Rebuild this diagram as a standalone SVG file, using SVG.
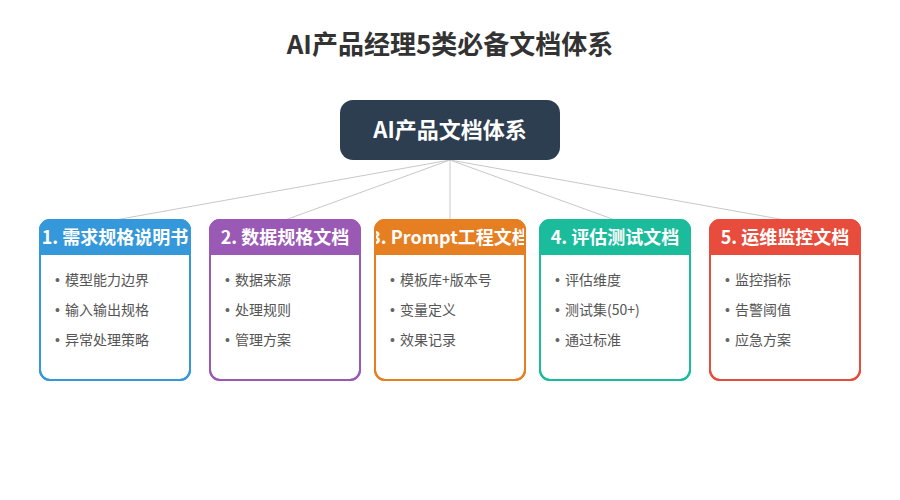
<svg xmlns="http://www.w3.org/2000/svg" width="900" height="500" viewBox="0 0 900 500">
<style>
text{font-family:"Noto Sans CJK SC","Liberation Sans",sans-serif}
.title{font-size:26px;font-weight:bold;fill:#333;text-anchor:middle}
.root{font-size:22px;font-weight:bold;fill:#fff;text-anchor:middle}
.hd{font-size:18px;font-weight:bold;fill:#fff;text-anchor:middle}
.it{font-size:14px;fill:#555}
.it text.b{font-family:"Liberation Sans",sans-serif;fill:#666}
.conn line{stroke:#c8c8c8;stroke-width:1}
.card{fill:#fff;stroke-width:2}
</style>
<defs>
<clipPath id="c1"><rect x="40" y="220" width="150" height="160" rx="10"/></clipPath>
<clipPath id="c2"><rect x="210" y="220" width="150" height="160" rx="10"/></clipPath>
<clipPath id="c3"><rect x="375" y="220" width="150" height="160" rx="10"/></clipPath>
<clipPath id="c4"><rect x="540" y="220" width="150" height="160" rx="10"/></clipPath>
<clipPath id="c5"><rect x="710" y="220" width="150" height="160" rx="10"/></clipPath>
</defs>
<rect width="900" height="500" fill="#fff"/>
<text class="title" x="450" y="54">AI产品经理5类必备文档体系</text>
<g class="conn">
<line x1="450" y1="160" x2="115" y2="220"/>
<line x1="450" y1="160" x2="285" y2="220"/>
<line x1="450" y1="160" x2="450" y2="220"/>
<line x1="450" y1="160" x2="615" y2="220"/>
<line x1="450" y1="160" x2="785" y2="220"/>
</g>
<g id="root">
<rect x="340" y="100" width="220" height="60" rx="13" fill="#2c3e50"/>
<text class="root" x="450" y="138">AI产品文档体系</text>
</g>
<g id="card1">
<rect class="card" x="40" y="220" width="150" height="160" rx="10" stroke="#3498db"/>
<g clip-path="url(#c1)"><rect x="40" y="220" width="150" height="35" fill="#3498db"/>
<text class="hd" x="115" y="244">1. 需求规格说明书</text></g>
<rect x="40" y="220" width="150" height="160" rx="10" fill="none" stroke="#3498db" stroke-width="2"/>
<g class="it"><text class="b" x="55" y="285">•</text><text x="65" y="285">模型能力边界</text>
<text class="b" x="55" y="315">•</text><text x="65" y="315">输入输出规格</text>
<text class="b" x="55" y="345">•</text><text x="65" y="345">异常处理策略</text></g>
</g>
<g id="card2">
<rect class="card" x="210" y="220" width="150" height="160" rx="10" stroke="#9b59b6"/>
<g clip-path="url(#c2)"><rect x="210" y="220" width="150" height="35" fill="#9b59b6"/>
<text class="hd" x="285" y="244">2. 数据规格文档</text></g>
<rect x="210" y="220" width="150" height="160" rx="10" fill="none" stroke="#9b59b6" stroke-width="2"/>
<g class="it"><text class="b" x="225" y="285">•</text><text x="235" y="285">数据来源</text>
<text class="b" x="225" y="315">•</text><text x="235" y="315">处理规则</text>
<text class="b" x="225" y="345">•</text><text x="235" y="345">管理方案</text></g>
</g>
<g id="card3">
<rect class="card" x="375" y="220" width="150" height="160" rx="10" stroke="#e67e22"/>
<g clip-path="url(#c3)"><rect x="375" y="220" width="150" height="35" fill="#e67e22"/>
<text class="hd" x="450" y="244">3. Prompt工程文档</text></g>
<rect x="375" y="220" width="150" height="160" rx="10" fill="none" stroke="#e67e22" stroke-width="2"/>
<g class="it"><text class="b" x="390" y="285">•</text><text x="400" y="285">模板库+版本号</text>
<text class="b" x="390" y="315">•</text><text x="400" y="315">变量定义</text>
<text class="b" x="390" y="345">•</text><text x="400" y="345">效果记录</text></g>
</g>
<g id="card4">
<rect class="card" x="540" y="220" width="150" height="160" rx="10" stroke="#1abc9c"/>
<g clip-path="url(#c4)"><rect x="540" y="220" width="150" height="35" fill="#1abc9c"/>
<text class="hd" x="615" y="244">4. 评估测试文档</text></g>
<rect x="540" y="220" width="150" height="160" rx="10" fill="none" stroke="#1abc9c" stroke-width="2"/>
<g class="it"><text class="b" x="555" y="285">•</text><text x="565" y="285">评估维度</text>
<text class="b" x="555" y="315">•</text><text x="565" y="315">测试集(50+)</text>
<text class="b" x="555" y="345">•</text><text x="565" y="345">通过标准</text></g>
</g>
<g id="card5">
<rect class="card" x="710" y="220" width="150" height="160" rx="10" stroke="#e74c3c"/>
<g clip-path="url(#c5)"><rect x="710" y="220" width="150" height="35" fill="#e74c3c"/>
<text class="hd" x="785" y="244">5. 运维监控文档</text></g>
<rect x="710" y="220" width="150" height="160" rx="10" fill="none" stroke="#e74c3c" stroke-width="2"/>
<g class="it"><text class="b" x="725" y="285">•</text><text x="735" y="285">监控指标</text>
<text class="b" x="725" y="315">•</text><text x="735" y="315">告警阈值</text>
<text class="b" x="725" y="345">•</text><text x="735" y="345">应急方案</text></g>
</g>
</svg>
